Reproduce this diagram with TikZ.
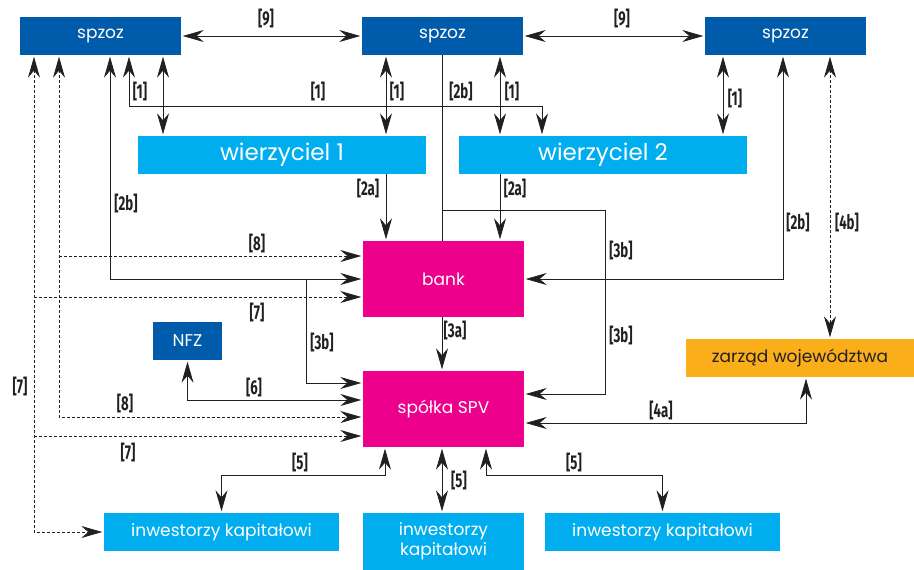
\documentclass[tikz,border=0pt]{standalone}
\usepackage{fontspec}
\usetikzlibrary{calc,arrows.meta}
\newfontfamily\boxfont{Poppins}
\newfontfamily\lblfont{Fira Sans}[FakeStretch=0.66]
\definecolor{spzozblue}{HTML}{005BAA}
\definecolor{credblue}{HTML}{00AEEF}
\definecolor{spvmagenta}{HTML}{EC008C}
\definecolor{regorange}{HTML}{F9AE1A}
\definecolor{arrowgray}{HTML}{231F20}

\begin{document}
\begin{tikzpicture}[
    x=1pt, y=-1pt,
    % Define the styles for the boxes
    box/.style={rectangle, inner sep=0pt, align=center, text=white,
        font=\boxfont\fontsize{17}{20}\selectfont},
    darkbox/.style={box, fill=spzozblue, minimum width=161pt, minimum height=38pt},
    credbox/.style={box, fill=credblue, minimum width=288pt, minimum height=38pt,
        font=\boxfont\fontsize{23}{26}\selectfont},
    spvbox/.style={box, fill=spvmagenta, minimum width=161pt, minimum height=76pt},
    invbox/.style={box, fill=credblue, minimum height=38pt},
    % Define the styles for the connectors and their labels
    >={Stealth[length=21pt, width=12pt, inset=7pt]},
    conn/.style={draw=arrowgray, line width=0.8pt},
    one/.style={conn, ->, shorten >=1.5pt},
    two/.style={conn, <->, shorten >=1.5pt, shorten <=1.5pt},
    dsh/.style={dash pattern=on 3pt off 2pt},
    lbl/.style={text=arrowgray, inner sep=0pt,
        font=\lblfont\bfseries\fontsize{20}{22}\selectfont}
]
    \useasboundingbox (0,0) rectangle (914,570);

    % Top row
    \node[darkbox] (sp1) at (100.5,36) {spzoz};
    \node[darkbox] (sp2) at (442.5,36) {spzoz};
    \node[darkbox] (sp3) at (785.5,36) {spzoz};

    % Creditors
    \node[credbox] (w1) at (282,155) {wierzyciel 1};
    \node[credbox] (w2) at (603,155) {wierzyciel 2};

    % Middle
    \node[spvbox] (bank) at (443.5,279) {bank};
    \node[spvbox] (spv) at (443.5,409) {spółka SPV};
    \node[darkbox, minimum width=69pt] (nfz) at (187.5,341) {NFZ};
    \node[box, fill=regorange, text=arrowgray, minimum width=228pt, minimum height=38pt]
        (zw) at (800,358) {zarząd województwa};

    % Investors
    \node[invbox, minimum width=235pt] (inv1) at (221.5,532) {inwestorzy kapitałowi};
    \node[invbox, minimum width=161pt, minimum height=57pt] (inv2) at (443.5,541.5)
        {inwestorzy\\kapitałowi};
    \node[invbox, minimum width=235pt] (inv3) at (662.5,532) {inwestorzy kapitałowi};

    % Points on the sides of bank and SPV where the arrows end
    \coordinate (b8) at ($(bank.west)+(0,-23)$);
    \coordinate (b7) at ($(bank.west)+(0,18)$);
    \coordinate (s3) at ($(spv.west)+(0,-26)$);
    \coordinate (s6) at ($(spv.west)+(0,-9)$);
    \coordinate (s8) at ($(spv.west)+(0,8)$);
    \coordinate (s7) at ($(spv.west)+(0,27)$);
    \coordinate (r3) at ($(spv.east)+(0,-15)$);
    \coordinate (r4) at ($(spv.east)+(0,14)$);
    \coordinate (loop) at (542,106);
    \coordinate (fork) at (442,210);
    \coordinate (k5l) at (385,475);
    \coordinate (k5r) at (486,475);

    % [9]
    \draw[two] (sp1.east) -- (sp2.west);
    \draw[two] (sp2.east) -- (sp3.west);

    % [1]
    \draw[two] (129,0 |- sp1.south) |- (loop) -- (542,0 |- w2.north);
    \draw[two] (163,0 |- sp1.south) -- (163,0 |- w1.north);
    \draw[two] (386,0 |- sp2.south) -- (386,0 |- w1.north);
    \draw[two] (500,0 |- sp2.south) -- (500,0 |- w2.north);
    \draw[two] (723,0 |- sp3.south) -- (723,0 |- w2.north);

    % [2a], [2b]
    \draw[one] (386,0 |- w1.south) -- (386,0 |- bank.north);
    \draw[one] (500,0 |- w2.south) -- (500,0 |- bank.north);
    \draw[conn] (442,0 |- sp2.south) -- (442,0 |- bank.north);
    \draw[two] (110,0 |- sp1.south) |- (bank.west);
    \draw[two] (783,0 |- sp3.south) |- (bank.east);

    % [3a], [3b]
    \draw[one] (442,0 |- bank.south) -- (442,0 |- spv.north);
    \draw[one] (306,0 |- bank.west) |- (s3);
    \draw[one] (fork) -| (605,0 |- r3) -- (r3);

    % [4a], [4b]
    \draw[two, dsh] (830,0 |- sp3.south) -- (830,0 |- zw.north);
    \draw[two] (r4) -| (806,0 |- zw.south);

    % [5], [6]
    \draw[two] (385,0 |- spv.south) -- (k5l) -| (inv1.north);
    \draw[two] (442,0 |- spv.south) -- (442,0 |- inv2.north);
    \draw[two] (486,0 |- spv.south) -- (k5r) -| (inv3.north);
    \draw[two] (nfz.south) |- (s6);

    % [7], [8]
    \draw[two, dsh] (34,0 |- sp1.south) |- (inv1.west);
    \draw[one, dsh] (34,0 |- b7) -- (b7);
    \draw[one, dsh] (34,0 |- s7) -- (s7);
    \draw[two, dsh] (59,0 |- sp1.south) |- (s8);
    \draw[one, dsh] (59,0 |- b8) -- (b8);

    % Labels of the connectors
    \foreach \x/\y/\t [count=\i] in {266/18/9, 622/18/9,
        140/91/1, 318/91/1, 397/91/1, 512/91/1, 735/98/1,
        461/91/2b, 126/203/2b, 798/222/2b, 368/188/2a, 515/188/2a,
        455/330/3a, 322/342/3b, 621/250/3b, 621/335/3b,
        661/410/4a, 847/222/4b,
        300/462/5, 459/480/5, 574/462/5, 254/387/6,
        257/312/7, 20/386/7, 128/452/7, 257/243/8, 125/403/8} {
        \node[lbl] (lab\i) at (\x,\y) {[\t]};
    }
\end{tikzpicture}
\end{document}
